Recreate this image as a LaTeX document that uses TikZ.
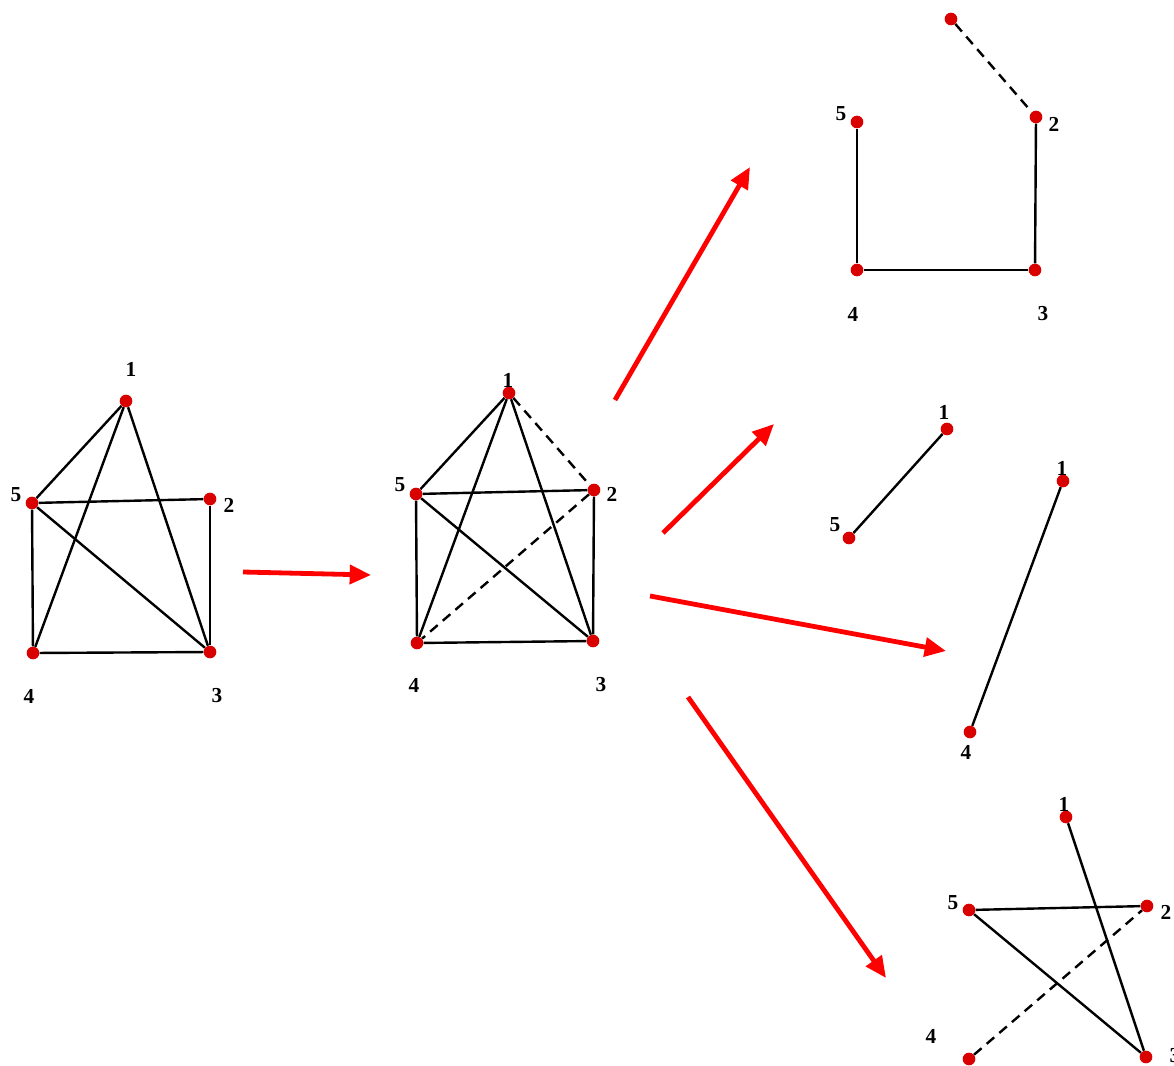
\documentclass[tikz,border=0pt]{standalone}
\usepackage{fontspec}
\setmainfont{Liberation Serif}
\usetikzlibrary{arrows.meta, positioning}

\begin{document}
\begin{tikzpicture}[
    x=0.75pt, y=-0.75pt,
    font=\fontsize{16}{18}\selectfont\bfseries,
    vertex/.style={circle, fill=red!85!black, inner sep=0pt, minimum size=9.5pt},
    lbl/.style={inner sep=0pt, text=black},
    edge/.style={line width=1.8pt},
    hidden/.style={edge, dash pattern=on 7.5pt off 5pt},
    flow/.style={-{Triangle[length=16pt, width=14pt]}, line width=3.6pt, red}
]
    \useasboundingbox (0,0) rectangle (1174,1066);

    % first graph
    \node (a1) [vertex] at (126,401) {};
    \node (a2) [vertex] at (210,499) {};
    \node (a3) [vertex] at (210,652) {};
    \node (a4) [vertex] at (33,653) {};
    \node (a5) [vertex] at (32,503) {};
    \node (la1) [lbl] at (131,369) {1};
    \node (la2) [lbl] at (229,505) {2};
    \node (la3) [lbl] at (217,696) {3};
    \node (la4) [lbl] at (29,696) {4};
    \node (la5) [lbl] at (16,495) {5};

    \draw[edge] (a1) -- (a5);
    \draw[edge] (a1) -- (a4);
    \draw[edge] (a1) -- (a3);
    \draw[edge] (a5) -- (a2);
    \draw[edge] (a2) -- (a3);
    \draw[edge] (a3) -- (a4);
    \draw[edge] (a4) -- (a5);
    \draw[edge] (a5) -- (a3);

    % second graph
    \node (b1) [vertex] at (509,393) {};
    \node (b2) [vertex] at (594,490) {};
    \node (b3) [vertex] at (593,641) {};
    \node (b4) [vertex] at (417,643) {};
    \node (b5) [vertex] at (416,494) {};
    \node (lb1) [lbl] at (508,380) {1};
    \node (lb2) [lbl] at (612,494) {2};
    \node (lb3) [lbl] at (601,685) {3};
    \node (lb4) [lbl] at (414,685) {4};
    \node (lb5) [lbl] at (400,485) {5};

    \draw[edge] (b1) -- (b5);
    \draw[edge] (b1) -- (b4);
    \draw[edge] (b1) -- (b3);
    \draw[edge] (b5) -- (b2);
    \draw[edge] (b2) -- (b3);
    \draw[edge] (b3) -- (b4);
    \draw[edge] (b4) -- (b5);
    \draw[edge] (b5) -- (b3);
    \draw[hidden] (b1) -- (b2);
    \draw[hidden] (b2) -- (b4);

    % top right graph
    \node (c0) [vertex] at (951,19) {};
    \node (c2) [vertex] at (1036,117) {};
    \node (c3) [vertex] at (1035,270) {};
    \node (c4) [vertex] at (857,270) {};
    \node (c5) [vertex] at (857,122) {};
    \node (lc2) [lbl] at (1054,124) {2};
    \node (lc3) [lbl] at (1043,314) {3};
    \node (lc4) [lbl] at (853,314) {4};
    \node (lc5) [lbl] at (841,114) {5};

    \draw[hidden] (c0) -- (c2);
    \draw[edge] (c2) -- (c3);
    \draw[edge] (c3) -- (c4);
    \draw[edge] (c4) -- (c5);

    % single edges
    \node (d1) [vertex] at (947,429) {};
    \node (d5) [vertex] at (849,538) {};
    \node (ld1) [lbl] at (944,412) {1};
    \node (ld5) [lbl] at (835,525) {5};
    \draw[edge] (d1) -- (d5);

    \node (e1) [vertex] at (1063,481) {};
    \node (e4) [vertex] at (970,732) {};
    \node (le1) [lbl] at (1062,468) {1};
    \node (le4) [lbl] at (966,752) {4};
    \draw[edge] (e1) -- (e4);

    % bottom right graph
    \node (f1) [vertex] at (1066,817) {};
    \node (f2) [vertex] at (1147,906) {};
    \node (f3) [vertex] at (1146,1057) {};
    \node (f4) [vertex] at (969,1059) {};
    \node (f5) [vertex] at (969,910) {};
    \node (lf1) [lbl] at (1064,804) {1};
    \node (lf2) [lbl] at (1166,912) {2};
    \node (lf3) [lbl] at (1175,1056) {3};
    \node (lf4) [lbl] at (931,1036) {4};
    \node (lf5) [lbl] at (953,903) {5};

    \draw[edge] (f1) -- (f3);
    \draw[edge] (f5) -- (f2);
    \draw[edge] (f5) -- (f3);
    \draw[hidden] (f4) -- (f2);

    % red arrows
    \coordinate (s0) at (243,572);
    \coordinate (t0) at (371,575);
    \coordinate (s1) at (615,400);
    \coordinate (t1) at (750,167);
    \coordinate (s2) at (663,533);
    \coordinate (t2) at (774,424);
    \coordinate (s3) at (650,596);
    \coordinate (t3) at (946,651);
    \coordinate (s4) at (688,697);
    \coordinate (t4) at (886,978);

    \draw[flow] (s0) -- (t0);
    \draw[flow] (s1) -- (t1);
    \draw[flow] (s2) -- (t2);
    \draw[flow] (s3) -- (t3);
    \draw[flow] (s4) -- (t4);
\end{tikzpicture}
\end{document}
